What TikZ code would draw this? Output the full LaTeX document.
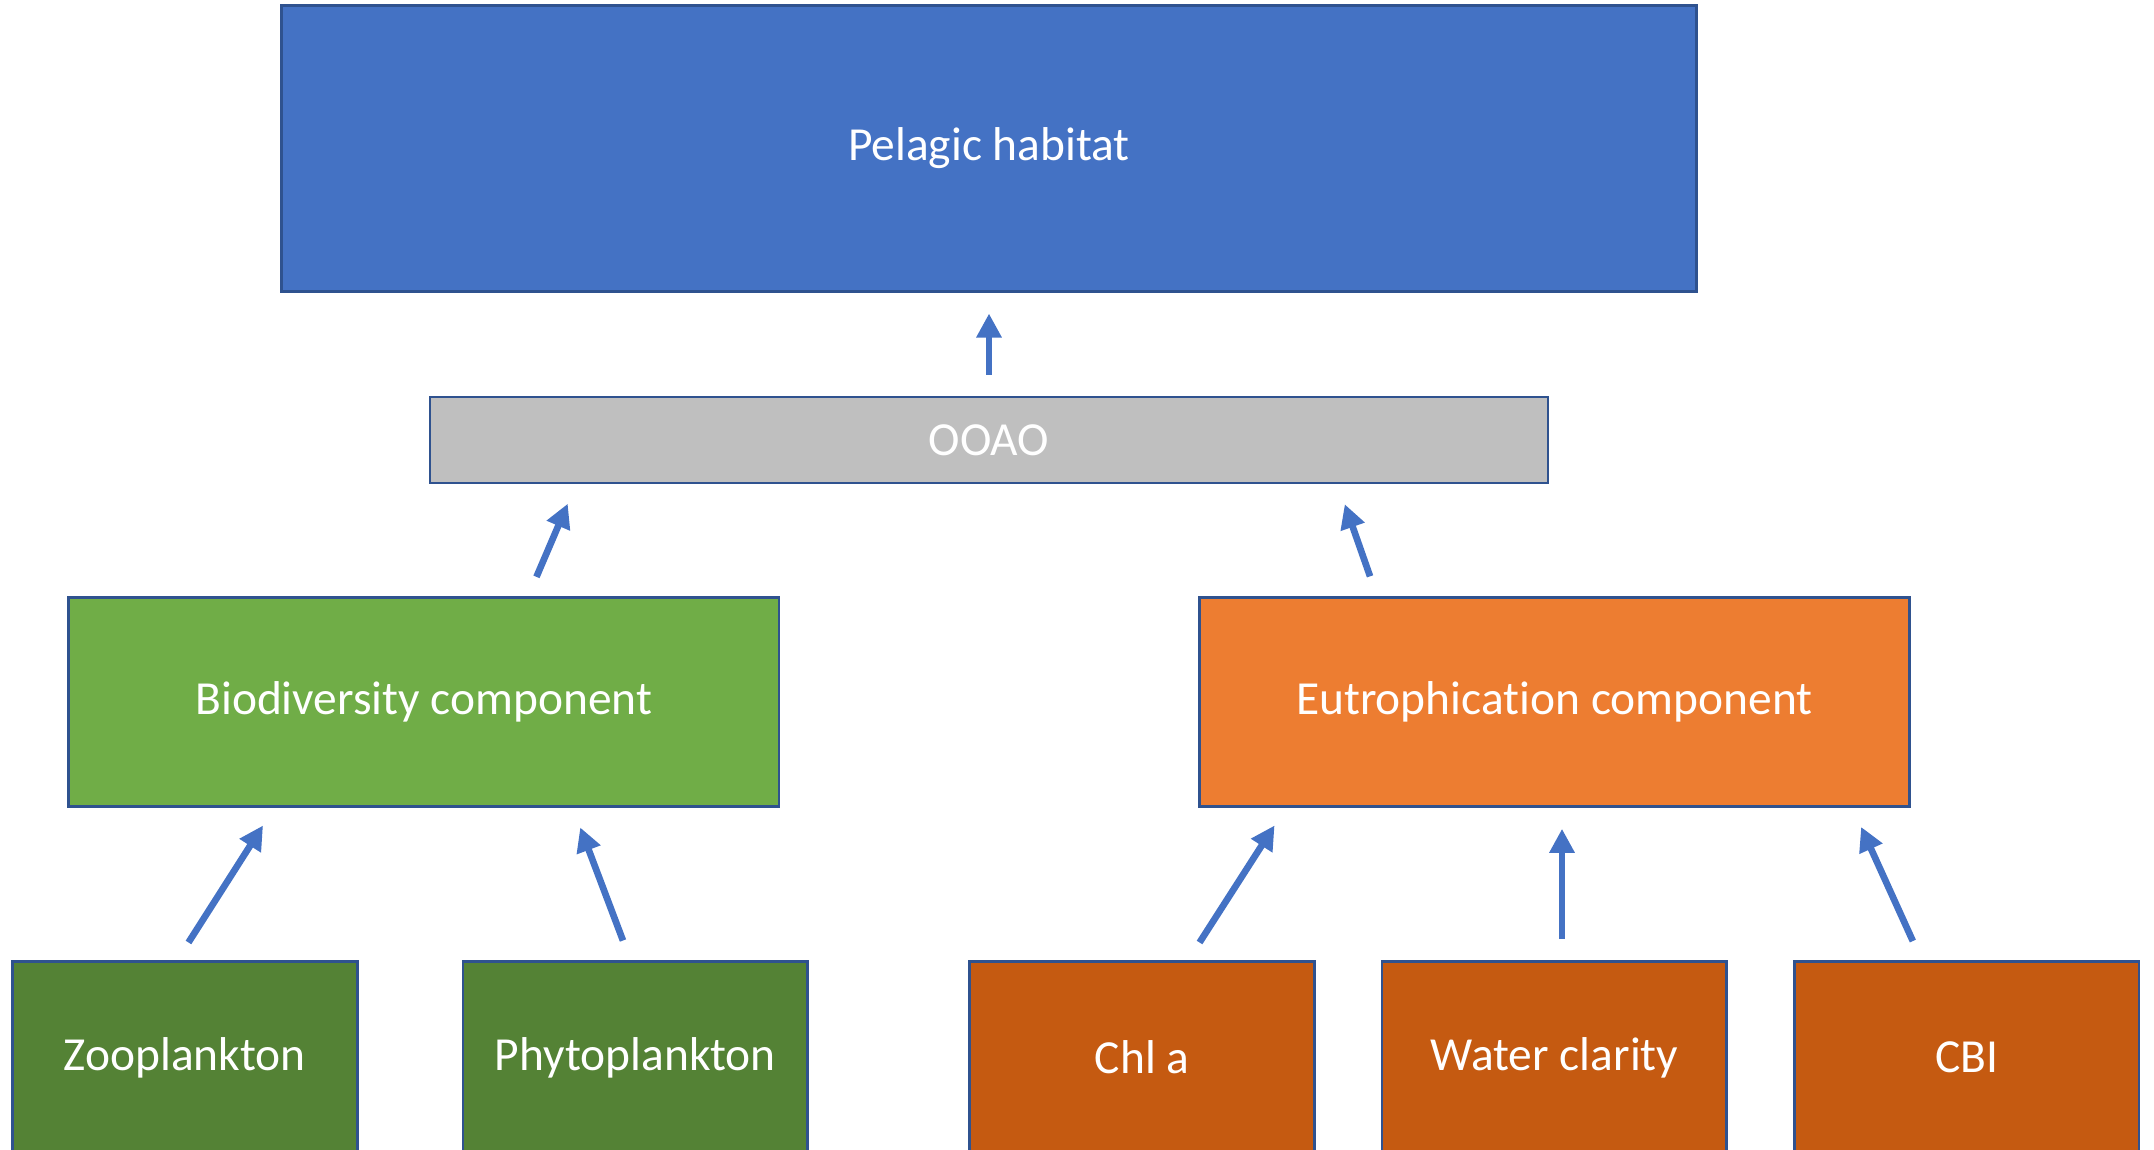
\documentclass[tikz,border=0pt]{standalone}
\usepackage{fontspec}
\setmainfont{Carlito}[Ligatures=NoCommon]
\usetikzlibrary{arrows.meta,positioning}
\definecolor{pelagicblue}{RGB}{68,114,196}
\definecolor{edgeblue}{RGB}{47,82,143}
\definecolor{ooaogray}{RGB}{191,191,191}
\definecolor{biogreen}{RGB}{112,173,71}
\definecolor{darkgreen}{RGB}{84,130,53}
\definecolor{eutroorange}{RGB}{237,125,49}
\definecolor{darkorange}{RGB}{197,90,17}

\begin{document}
\begin{tikzpicture}[
        box/.style={draw=edgeblue, line width=0.8pt, text=white, align=center, inner sep=0pt,
                    font=\fontsize{13.5pt}{16pt}\selectfont},
        indicator/.style={box, minimum width=3.448cm, minimum height=1.922cm},
        link/.style={-{Triangle[length=0.24cm,width=0.24cm]}, line width=1.9pt, pelagicblue,
                     shorten >=0.21cm, shorten <=0.21cm}
    ]
        \useasboundingbox (0,0) rectangle (21.54,11.5);

        % Top level
        \node[box, fill=pelagicblue, minimum width=14.149cm, minimum height=2.857cm] (pelagic) at (9.89,10.017) {Pelagic habitat};
        \node[box, fill=ooaogray, minimum width=11.18cm, minimum height=0.86cm] (ooao) at (9.89,7.10) {OOAO};

        % Components
        \node[box, fill=biogreen, minimum width=7.102cm, minimum height=2.088cm] (bio) at (4.238,4.48) {Biodiversity component};
        \node[box, fill=eutroorange, minimum width=7.102cm, minimum height=2.088cm] (eutro) at (15.544,4.48) {Eutrophication component};

        % Indicators
        \node[indicator, fill=darkgreen] (zoo) at (1.848,0.923) {Zooplankton};
        \node[indicator, fill=darkgreen] (phyto) at (6.354,0.923) {Phytoplankton};
        \node[indicator, fill=darkorange] (chl) at (11.422,0.923) {Chl a};
        \node[indicator, fill=darkorange] (water) at (15.544,0.923) {Water clarity};
        \node[indicator, fill=darkorange] (cbi) at (19.665,0.923) {CBI};

        % Arrows
        \draw[link] (ooao.north) -- (pelagic.south);
        \draw[link] ([xshift=1.044cm]bio.north) -- ([xshift=-4.13cm]ooao.south);
        \draw[link] ([xshift=-1.774cm]eutro.north) -- ([xshift=3.488cm]ooao.south);
        \draw[link] ([xshift=-0.076cm]zoo.north) -- ([xshift=-1.495cm]bio.south);
        \draw[link] ([xshift=-0.05cm]phyto.north) -- ([xshift=1.49cm]bio.south);
        \draw[link] ([xshift=0.46cm]chl.north) -- ([xshift=-2.685cm]eutro.south);
        \draw[link] ([xshift=0.076cm]water.north) -- ([xshift=0.076cm]eutro.south);
        \draw[link] ([xshift=-0.45cm]cbi.north) -- ([xshift=2.98cm]eutro.south);
    \end{tikzpicture}
\end{document}
